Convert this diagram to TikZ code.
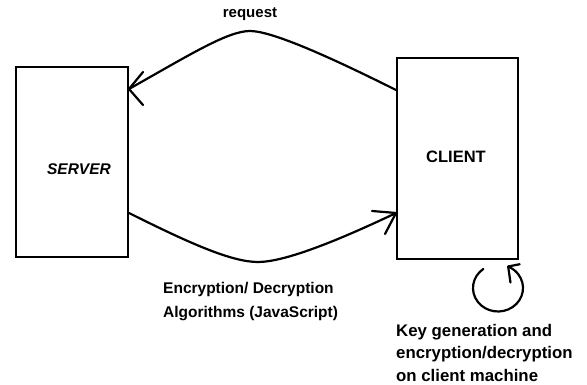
\documentclass[tikz,border=0pt]{standalone}
\usepackage{fontspec}
\setmainfont{Liberation Sans}
\begin{document}
\begin{tikzpicture}[x=1pt,y=1pt,
  box/.style={draw, line width=2pt, inner sep=0pt},
  conn/.style={line width=2.2pt, line cap=round, line join=round},
  lbl/.style={inner sep=0pt},
]
\useasboundingbox (0,0) rectangle (587,-385);
% boxes
\node[box, minimum width=112pt, minimum height=190pt] (server) at (72,-162) {};
\node[box, minimum width=121pt, minimum height=201pt] (client) at (457.5,-158.5) {};
% labels
\node[lbl, anchor=base, font=\bfseries\itshape\fontsize{15.5}{18}\selectfont] (serverlbl) at (79,-175) {SERVER};
\node[lbl, anchor=base, font=\bfseries\fontsize{16.5}{19}\selectfont] (clientlbl) at (456,-162.7) {CLIENT};
\node[lbl, anchor=base, font=\bfseries\fontsize{15}{18}\selectfont] (reqlbl) at (250,-18) {request};
\node[lbl, anchor=north west, align=left, font=\bfseries\fontsize{15.5}{24}\selectfont] (enclbl) at (163,-282.5) {Encryption/ Decryption\\Algorithms (JavaScript)};
\node[lbl, anchor=north west, align=left, font=\bfseries\fontsize{16.8}{22.5}\selectfont] (keylbl) at (396,-323.7) {Key generation and\\encryption/decryption\\on client machine};
% request connector
\coordinate (reqs) at ([yshift=-33pt]client.north west);
\coordinate (reqe) at ([yshift=-23pt]server.north east);
\coordinate (reqpeak) at (250,-31);
\draw[conn] (reqs) .. controls +(-66,33) and +(22,0) .. (reqpeak) .. controls +(-22,0) and +(62,35) .. (reqe);
\draw[conn] ([shift={(14,17)}]reqe) -- (reqe) -- ([shift={(14,-16)}]reqe);
% encryption connector
\coordinate (encs) at ([yshift=45pt]server.south east);
\coordinate (ence) at ([yshift=47pt]client.south west);
\coordinate (encbot) at (258,-262);
\draw[conn] (encs) .. controls +(62,-31) and +(-26,0) .. (encbot) .. controls +(26,0) and +(-61,-29) .. (ence);
\draw[conn] ([shift={(-24,2)}]ence) -- (ence) -- ([shift={(-11,-21)}]ence);
% self loop
\coordinate (loopc) at ([shift={(-21,-28)}]client.south east);
\draw[conn] ([shift={(126:25 and 23.5)}]loopc) arc[start angle=126, end angle=426, x radius=25, y radius=23.5] coordinate (loope);
\draw[conn] ([shift={(11.5,2.3)}]loope) -- (loope) -- ([shift={(2.3,-16)}]loope);
\end{tikzpicture}
\end{document}
